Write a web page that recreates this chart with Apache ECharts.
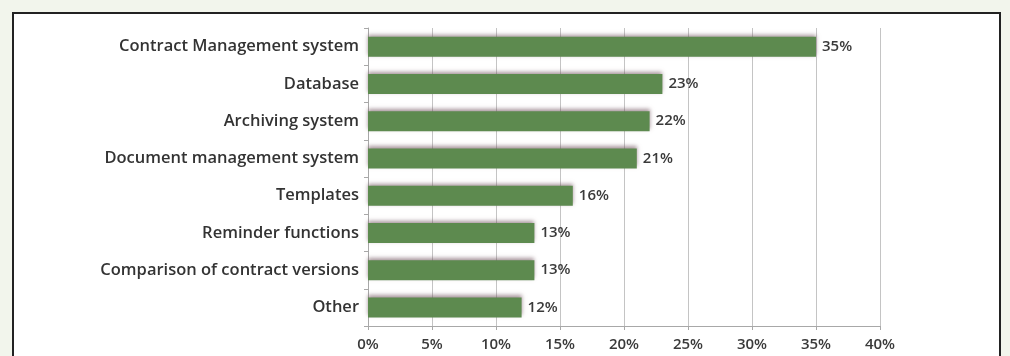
<!DOCTYPE html>
<html>
<head>
<meta charset="utf-8">
<script src="https://cdn.jsdelivr.net/npm/echarts@6/dist/echarts.min.js"></script>
<style>
html,body{margin:0;padding:0;background:#f2f5ec;}
#frame{position:absolute;left:12px;top:12px;width:985px;height:360px;border:2px solid #222;background:#fff;}
#chart{position:absolute;left:0;top:0;width:1010px;height:356px;}
</style>
</head>
<body>
<div id="frame"></div>
<div id="chart"></div>
<script>
const categories = [
  "Contract Management system",
  "Database",
  "Archiving system",
  "Document management system",
  "Templates",
  "Reminder functions",
  "Comparison of contract versions",
  "Other"
];
const values = [35, 23, 22, 21, 16, 13, 13, 12];
const xTicks = { min: 0, max: 40, interval: 5 };

const chart = echarts.init(document.getElementById('chart'), null, {renderer: 'canvas'});
const font = 'Open Sans';
chart.setOption({
  backgroundColor: 'transparent',
  animation: false,
  grid: { left: 368, right: 130, top: 28, bottom: 30, containLabel: false },
  xAxis: {
    type: 'value',
    min: xTicks.min, max: xTicks.max, interval: xTicks.interval,
    axisLine: { show: true, lineStyle: { color: '#a8a8a8', width: 1 } },
    axisTick: { show: true, length: 4, lineStyle: { color: '#a8a8a8' } },
    splitLine: { show: true, lineStyle: { color: '#c4c4c4', width: 1 } },
    axisLabel: { formatter: '{value}%', color: '#3a3a3a', fontSize: 15, fontWeight: 600, fontFamily: font, margin: 11 }
  },
  yAxis: {
    type: 'category',
    inverse: true,
    data: categories,
    axisLine: { show: true, lineStyle: { color: '#a8a8a8', width: 1 } },
    axisTick: { show: true, length: 4, lineStyle: { color: '#a8a8a8' } },
    axisLabel: { color: '#333', fontSize: 16.5, fontWeight: 600, fontFamily: font, margin: 9 }
  },
  series: [{
    type: 'bar',
    data: values,
    barWidth: 20,
    itemStyle: {
      color: '#5d8a4f',
      shadowColor: 'rgba(110,80,90,0.6)',
      shadowBlur: 4,
      shadowOffsetY: -2
    },
    label: {
      show: true,
      position: 'right',
      distance: 6,
      formatter: '{c}%',
      color: '#3a3a3a',
      fontSize: 15,
      fontWeight: 600,
      fontFamily: font
    }
  }]
});
</script>
</body>
</html>
